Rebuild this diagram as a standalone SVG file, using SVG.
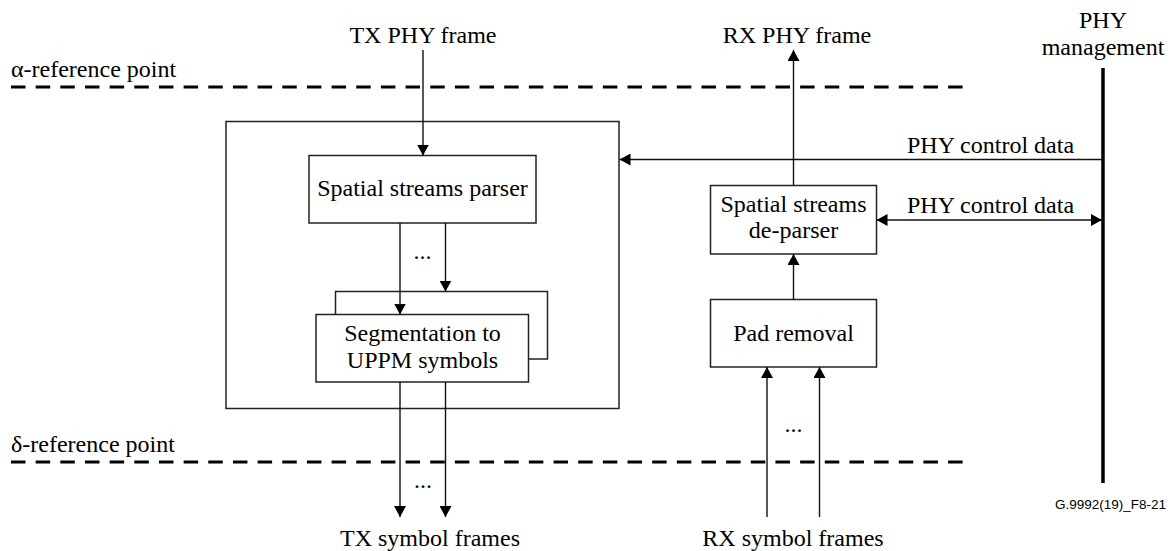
<svg xmlns="http://www.w3.org/2000/svg" width="1171" height="551" viewBox="0 0 1171 551">
  <defs>
    <marker id="arrow" viewBox="0 0 11 12" refX="11" refY="6" markerWidth="11" markerHeight="12" markerUnits="userSpaceOnUse" orient="auto-start-reverse">
      <path d="M0,0 L11,6 L0,12 Z" fill="#000"/>
    </marker>
    <style>
      .lbl { font-family: "Liberation Serif", "Times New Roman", serif; font-size: 24px; fill: #000; }
      .mid { text-anchor: middle; }
      .box { fill: #fff; stroke: #222; stroke-width: 1.5; }
      .wire { fill: none; stroke: #111; stroke-width: 1.4; }
      .ref { fill: none; stroke: #000; stroke-width: 3; stroke-dasharray: 14.5 10.16; }
      .tag { font-family: "Liberation Sans", Arial, sans-serif; font-size: 13.5px; fill: #000; }
    </style>
  </defs>
  <rect width="1171" height="551" fill="#fff"/>

  <!-- reference points -->
  <g id="ref-points">
    <text class="lbl" x="11" y="77">α-reference point</text>
    <line class="ref" x1="11" y1="87" x2="963" y2="87"/>
    <text class="lbl" x="11" y="452">δ-reference point</text>
    <line class="ref" x1="11" y1="462" x2="963" y2="462"/>
  </g>

  <!-- external labels -->
  <g id="io-labels">
    <text class="lbl mid" x="423" y="43">TX PHY frame</text>
    <text class="lbl mid" x="797" y="43">RX PHY frame</text>
    <text class="lbl mid" x="430" y="546">TX symbol frames</text>
    <text class="lbl mid" x="793" y="546">RX symbol frames</text>
  </g>

  <!-- PHY management -->
  <g id="phy-management">
    <text class="lbl mid" x="1103" y="28">PHY</text>
    <text class="lbl mid" x="1103" y="55">management</text>
    <line x1="1103" y1="68" x2="1103" y2="483" stroke="#000" stroke-width="3.5"/>
  </g>

  <!-- transmitter enclosure -->
  <g id="tx-block">
    <rect class="box" x="226" y="121.5" width="393" height="287" fill="none"/>
  </g>

  <g id="tx-parser">
    <rect class="box" x="309" y="155.5" width="227" height="67.5"/>
    <text class="lbl mid" x="422.5" y="196">Spatial streams parser</text>
  </g>

  <g id="tx-segmentation-back">
    <rect class="box" x="335.5" y="291.5" width="212" height="67.5"/>
  </g>

  <g id="tx-segmentation">
    <rect class="box" x="316" y="314.5" width="212.5" height="67.5"/>
    <text class="lbl mid" x="422.5" y="341">Segmentation to</text>
    <text class="lbl mid" x="422.5" y="368">UPPM symbols</text>
  </g>

  <g id="rx-deparser">
    <rect class="box" x="710.5" y="185.5" width="166" height="68.5"/>
    <text class="lbl mid" x="793.5" y="212">Spatial streams</text>
    <text class="lbl mid" x="793.5" y="238">de-parser</text>
  </g>

  <g id="rx-pad-removal">
    <rect class="box" x="710.5" y="299.5" width="166" height="67.5"/>
    <text class="lbl mid" x="793.5" y="341">Pad removal</text>
  </g>

  <!-- connectors -->
  <g id="connectors">
    <line class="wire" x1="423" y1="50" x2="423" y2="155.5" marker-end="url(#arrow)"/>
    <line class="wire" x1="400" y1="223" x2="400" y2="314.5" marker-end="url(#arrow)"/>
    <line class="wire" x1="445.5" y1="223" x2="445.5" y2="291.5" marker-end="url(#arrow)"/>
    <line class="wire" x1="400" y1="382" x2="400" y2="517" marker-end="url(#arrow)"/>
    <line class="wire" x1="445.5" y1="382" x2="445.5" y2="517" marker-end="url(#arrow)"/>

    <line class="wire" x1="1103" y1="159.5" x2="619.5" y2="159.5" marker-end="url(#arrow)"/>
    <line class="wire" x1="876.5" y1="220" x2="1102" y2="220" marker-start="url(#arrow)" marker-end="url(#arrow)"/>

    <line class="wire" x1="793.5" y1="185.5" x2="793.5" y2="50" marker-end="url(#arrow)"/>
    <line class="wire" x1="793.5" y1="299.5" x2="793.5" y2="254" marker-end="url(#arrow)"/>
    <line class="wire" x1="767" y1="517" x2="767" y2="367" marker-end="url(#arrow)"/>
    <line class="wire" x1="819.5" y1="517" x2="819.5" y2="367" marker-end="url(#arrow)"/>
  </g>

  <!-- connector labels -->
  <g id="connector-labels">
    <text class="lbl mid" x="990.5" y="153">PHY control data</text>
    <text class="lbl mid" x="990.5" y="213">PHY control data</text>
    <text class="lbl mid" x="422.5" y="259" font-size="20">...</text>
    <text class="lbl mid" x="423" y="488" font-size="20">...</text>
    <text class="lbl mid" x="793.5" y="432" font-size="20">...</text>
  </g>

  <text class="tag" x="1166" y="509" text-anchor="end">G.9992(19)_F8-21</text>
</svg>
